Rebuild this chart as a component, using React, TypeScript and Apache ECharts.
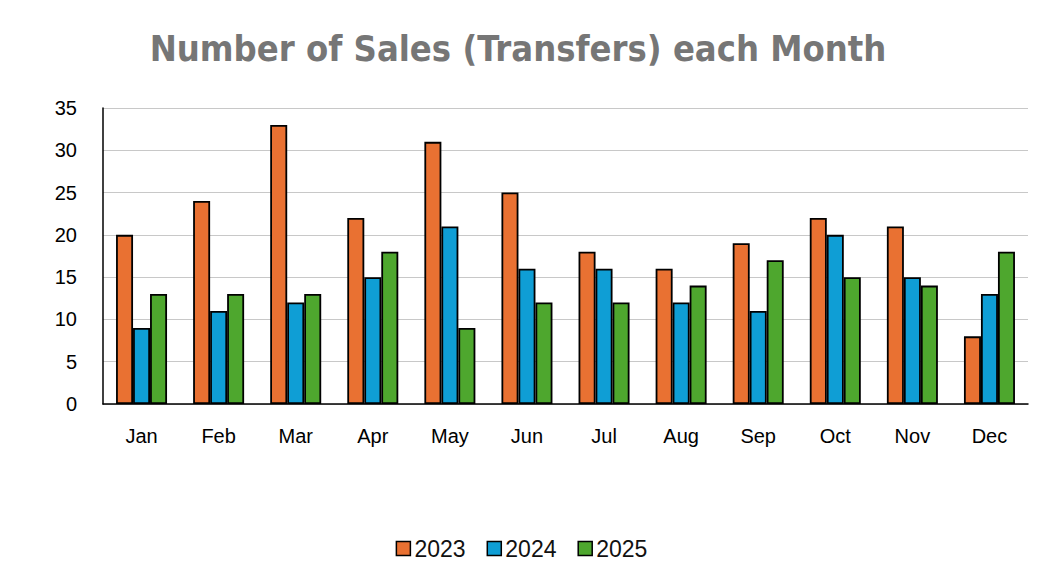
import React, { useEffect, useRef } from "react";
import * as echarts from "echarts";

const months = ["Jan", "Feb", "Mar", "Apr", "May", "Jun", "Jul", "Aug", "Sep", "Oct", "Nov", "Dec"];
const sales2023 = [20, 24, 33, 22, 31, 25, 18, 16, 19, 22, 21, 8];
const sales2024 = [9, 11, 12, 15, 21, 16, 16, 12, 11, 20, 15, 13];
const sales2025 = [13, 13, 13, 18, 9, 12, 12, 14, 17, 15, 14, 18];
const seriesNames = ["2023", "2024", "2025"];
const seriesColors = ["#E97132", "#0F9ED5", "#4EA72E"];

export default function App() {
  const ref = useRef<HTMLDivElement>(null);
  useEffect(() => {
    if (!ref.current) return;
    const chart = echarts.init(ref.current, undefined, { renderer: "svg" });
    const data = [sales2023, sales2024, sales2025];
    chart.setOption({
      animation: false,
      backgroundColor: "#ffffff",
      title: {
        text: "Number of Sales (Transfers) each Month",
        left: 513,
        textAlign: "center",
        top: 25,
        textStyle: {
          fontFamily: "'Liberation Sans Narrow', 'DejaVu Sans Condensed', sans-serif",
          fontSize: 36,
          fontWeight: "bold",
          color: "#767676",
        },
      },
      legend: {
        bottom: 15,
        left: "center",
        itemWidth: 14,
        itemHeight: 14,
        itemGap: 21,
        icon: "rect",
        textStyle: { fontFamily: "'Liberation Sans', Arial, sans-serif", fontSize: 23, color: "#111", padding: [0, 0, 0, -1] },
        itemStyle: { borderColor: "#000", borderWidth: 1.5 },
        data: seriesNames,
      },
      grid: { left: 103, right: 15, top: 108, bottom: 176, containLabel: false },
      xAxis: {
        type: "category",
        data: months,
        axisLine: { show: true, lineStyle: { color: "#000", width: 1.5 } },
        axisTick: { show: false },
        axisLabel: { fontFamily: "'Liberation Sans', Arial, sans-serif", fontSize: 20, color: "#000", margin: 22 },
      },
      yAxis: {
        type: "value",
        min: 0,
        max: 35,
        interval: 5,
        axisLine: { show: true, lineStyle: { color: "#000", width: 1.5 } },
        axisTick: { show: false },
        splitLine: { lineStyle: { color: "#c8c8c8", width: 1 } },
        axisLabel: { fontFamily: "'Liberation Sans', Arial, sans-serif", fontSize: 20, color: "#000", margin: 26 },
      },
      series: data.map((d, i) => ({
        name: seriesNames[i],
        type: "bar",
        data: d,
        barWidth: 17,
        barGap: "0%",
        itemStyle: { color: seriesColors[i], borderColor: "#000", borderWidth: 1.8 },
      })),
    });
    return () => chart.dispose();
  }, []);
  return <div ref={ref} style={{ position: "fixed", left: 0, top: 0, width: 1043, height: 580 }} />;
}
